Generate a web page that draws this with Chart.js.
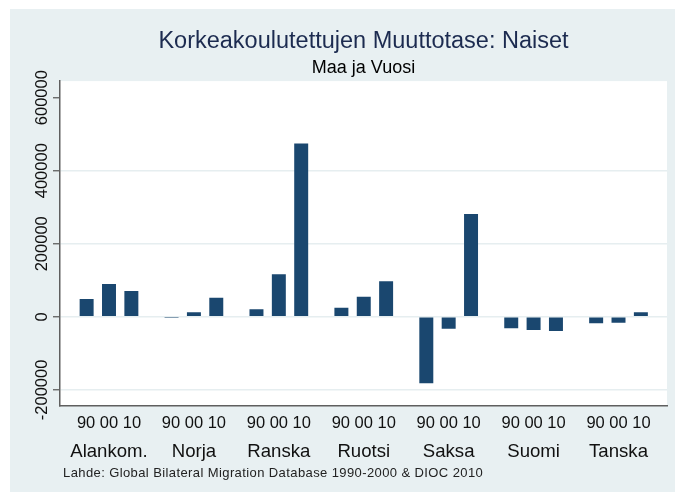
<!DOCTYPE html>
<html>
<head>
<meta charset="utf-8">
<script src="https://cdn.jsdelivr.net/npm/chart.js@4.4.1/dist/chart.umd.min.js"></script>
<style>
  body { margin: 0; background: #fff; }
  canvas { display: block; }
</style>
</head>
<body>
<canvas id="mycanvas" width="675" height="492"></canvas>
<script>
// data
var countries = ["Alankom.", "Norja", "Ranska", "Ruotsi", "Saksa", "Suomi", "Tanska"];
var years = ["90", "00", "10"];
var v1990 = [48700, -3000, 20500, 24900, -182000, -31500, -17800];
var v2000 = [89800, 12300, 116300, 55000, -32600, -36100, -16100];
var v2010 = [70600, 52300, 474800, 97100, 281300, -38900, 12300];
var yTicks = [-200000, 0, 200000, 400000, 600000];

var FONT = "'Liberation Sans', Arial, sans-serif";
var barColor = "#1a476f";

function toPoints(arr) {
    return arr.map(function (v, i) { return { x: i, y: v }; });
}

var catTicks = function (scale) {
    scale.ticks = countries.map(function (c, i) { return { value: i }; });
};

// background, plot area, rotated y labels, footnote
var stataLook = {
    id: "stataLook",
    beforeDraw: function (chart) {
        var ctx = chart.ctx, a = chart.chartArea;
        ctx.save();
        ctx.fillStyle = "#ffffff";
        ctx.fillRect(0, 0, chart.width, chart.height);
        ctx.fillStyle = "#e8f0f2";
        ctx.fillRect(10, 9, chart.width - 10, chart.height - 9);
        ctx.fillStyle = "#ffffff";
        ctx.fillRect(a.left, a.top, a.right - a.left, a.bottom - a.top);
        ctx.restore();
    },
    afterDraw: function (chart) {
        var ctx = chart.ctx, y = chart.scales.y;
        ctx.save();
        ctx.fillStyle = "#111";
        ctx.font = "16.5px " + FONT;
        ctx.textAlign = "center";
        ctx.textBaseline = "alphabetic";
        yTicks.forEach(function (t) {
            ctx.save();
            ctx.translate(46.5, y.getPixelForValue(t));
            ctx.rotate(-Math.PI / 2);
            ctx.fillText(String(t), 0, 0);
            ctx.restore();
        });
        ctx.textAlign = "left";
        ctx.fillStyle = "#222";
        ctx.font = "13px " + FONT;
        if ("letterSpacing" in ctx) ctx.letterSpacing = "0.4px";
        ctx.fillText("Lahde: Global Bilateral Migration Database 1990-2000 & DIOC 2010", 63, 477);
        ctx.restore();
    }
};

var ctx = document.getElementById("mycanvas");

var chart = new Chart(ctx, {
    type: "bar",
    data: {
        datasets: [
            { label: "1990", data: toPoints(v1990), backgroundColor: barColor },
            { label: "2000", data: toPoints(v2000), backgroundColor: barColor },
            { label: "2010", data: toPoints(v2010), backgroundColor: barColor }
        ]
    },
    options: {
        responsive: false,
        animation: false,
        devicePixelRatio: 1,
        categoryPercentage: 0.79,
        barPercentage: 0.625,
        layout: { padding: { left: 0, right: 8, top: 0, bottom: 29 } },
        plugins: {
            legend: { display: false },
            tooltip: { enabled: false },
            title: {
                display: true,
                fullSize: false,
                text: "Korkeakoulutettujen Muuttotase: Naiset",
                color: "#1c2b50",
                font: { family: FONT, size: 23.5, weight: "normal", lineHeight: 1.2 },
                padding: { top: 27, bottom: 0 }
            },
            subtitle: {
                display: true,
                fullSize: false,
                text: "Maa ja Vuosi",
                color: "#000",
                font: { family: FONT, size: 18, weight: "normal", lineHeight: 1.2 },
                padding: { top: 2, bottom: 2.3 }
            }
        },
        scales: {
            x: {
                type: "linear",
                position: "bottom",
                weight: 0,
                min: -0.577,
                max: 6.571,
                offset: false,
                afterBuildTicks: catTicks,
                afterFit: function (s) { s.height = 28; },
                grid: { display: false, drawTicks: false, offset: false },
                border: { display: true, color: "#5f5f5f", width: 1.5 },
                ticks: {
                    autoSkip: false,
                    maxRotation: 0,
                    padding: 8.2,
                    color: "#111",
                    font: { family: FONT, size: 16.5 },
                    callback: function () { return years.join(" "); }
                }
            },
            x2: {
                type: "linear",
                axis: "x",
                position: "bottom",
                weight: 1,
                min: -0.577,
                max: 6.571,
                offset: false,
                afterBuildTicks: catTicks,
                afterFit: function (s) { s.height = 29.5; },
                grid: { display: false, drawTicks: false },
                border: { display: false },
                ticks: {
                    autoSkip: false,
                    maxRotation: 0,
                    padding: 7.2,
                    color: "#111",
                    font: { family: FONT, size: 18.6 },
                    callback: function (val, idx) { return countries[idx]; }
                }
            },
            y: {
                min: -242700,
                max: 645300,
                afterBuildTicks: function (s) {
                    s.ticks = yTicks.map(function (t) { return { value: t }; });
                },
                afterFit: function (s) { s.width = 60; },
                border: { display: true, color: "#5f5f5f", width: 1.5 },
                grid: {
                    color: function (c) {
                        return c.tick && c.tick.value === 600000 ? "rgba(0,0,0,0)" : "#e6eef0";
                    },
                    lineWidth: 1.5,
                    drawTicks: true,
                    tickLength: 7,
                    tickColor: "#5f5f5f",
                    tickWidth: 1.3
                },
                ticks: { display: false }
            }
        }
    },
    plugins: [stataLook]
});
</script>
</body>
</html>
